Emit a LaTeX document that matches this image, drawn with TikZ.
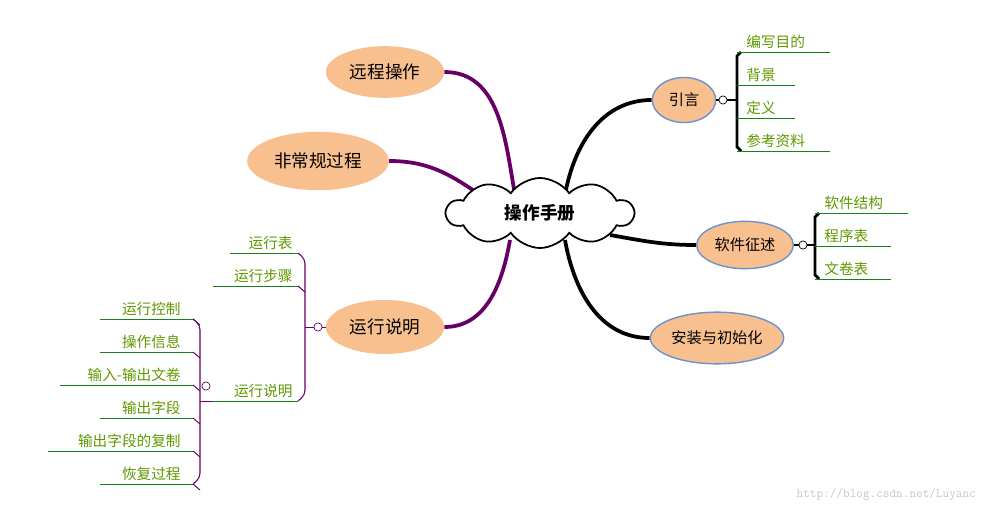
\documentclass[tikz,border=0pt]{standalone}
\usepackage{fontspec}
\setmainfont{Noto Sans CJK SC}
\usetikzlibrary{shapes.symbols,shapes.geometric,backgrounds}
\definecolor{peach}{HTML}{F8C08E}
\definecolor{rim}{HTML}{6A93D0}
\definecolor{plum}{HTML}{660066}
\definecolor{leafgreen}{HTML}{5E9900}
\definecolor{rule}{HTML}{178217}
\tikzset{
  topic/.style={ellipse, fill=peach, inner sep=0pt, font=\fontsize{15}{18}\selectfont},
  rtopic/.style={topic, draw=rim, line width=1.2pt, font=\fontsize{13}{16}\selectfont},
  leaf/.style={text=leafgreen, inner sep=1pt, font=\fontsize{12.5}{15}\selectfont},
  underline/.style={draw=rule, line width=0.8pt},
  thickblack/.style={line width=3.2pt, black},
  thickplum/.style={line width=3.2pt, plum},
  knob/.style={circle, draw, fill=white, inner sep=0pt, minimum size=7pt, line width=0.6pt},
}
\begin{document}
\begin{tikzpicture}[x=0.03cm, y=-0.03cm]
  \useasboundingbox (0,0) rectangle (987,516);
  % centre
  \node[cloud, cloud puffs=10, cloud puff arc=110, aspect=2.6, draw, line width=1.5pt,
        fill=white, minimum width=5.6cm, minimum height=2.1cm, inner sep=0pt,
        font=\fontsize{15}{18}\selectfont\bfseries] (main) at (540,213) {操作手册};

  % left topics
  \node[topic, minimum width=3.55cm, minimum height=1.55cm] (remote) at (385,72) {远程操作};
  \node[topic, minimum width=4.25cm, minimum height=1.75cm] (unusual) at (318,161) {非常规过程};
  \node[topic, minimum width=3.55cm, minimum height=1.62cm] (run) at (385,327) {运行说明};

  % right topics
  \node[rtopic, minimum width=1.9cm, minimum height=1.35cm] (intro) at (684,100) {引言};
  \node[rtopic, minimum width=2.9cm, minimum height=1.42cm] (soft) at (745,245) {软件征述};
  \node[rtopic, minimum width=4cm, minimum height=1.55cm] (setup) at (717,338) {安装与初始化};

  \begin{scope}[on background layer]
    \draw[thickplum] (remote.east) to[out=0, in=100] (515,195);
    \draw[thickplum] (unusual.east) to[out=0, in=145] (480,195);
    \draw[thickplum] (run.east) to[out=0, in=-100] (510,240);
    \draw[thickblack] (565,195) to[out=80, in=180] (intro.west);
    \draw[thickblack] (610,235) to[out=-10, in=180] (soft.west);
    \draw[thickblack] (565,240) to[out=-80, in=180] (setup.west);
  \end{scope}

  % intro branch
  \node[knob] (introk) at (723,100) {};
  \draw[black, line width=2pt] (intro.east) -- (introk);
  \draw[black, line width=2pt] (introk) -- (737,100);
  \draw[black, line width=2.4pt] (741,52) -- (737,56) -- (737,147) -- (741,151);
  \foreach \t/\y/\e [count=\i] in {编写目的/52/830, 背景/85/795, 定义/118/795, 参考资料/151/830}{
    \node[leaf, anchor=south west] (intro\i) at (745,\y-2) {\t};
    \draw[underline] (737,\y) -- (\e,\y);
  }

  % soft branch
  \node[knob] (softk) at (803,245) {};
  \draw[black, line width=2pt] (soft.east) -- (softk);
  \draw[black, line width=2pt] (softk) -- (815,245);
  \draw[black, line width=2.4pt] (819,213) -- (815,217) -- (815,275) -- (819,279);
  \foreach \t/\y/\e [count=\i] in {软件结构/213/908, 程序表/246/891, 文卷表/279/891}{
    \node[leaf, anchor=south west] (soft\i) at (823,\y-2) {\t};
    \draw[underline] (815,\y) -- (\e,\y);
  }

  % run branch
  \node[knob, draw=plum] (runk) at (318,327) {};
  \draw[plum, line width=0.8pt] (run.west) -- (runk);
  \draw[plum, line width=0.8pt] (runk) -- (305,327);
  \draw[plum, line width=0.9pt, rounded corners=4pt] (298,253) -- (305,259) -- (305,395) -- (298,401);
  \draw[plum, line width=0.9pt, rounded corners=4pt] (298,286) -- (305,292);
  \foreach \t/\y/\s [count=\i] in {运行表/253/230, 运行步骤/286/213, 运行说明/401/213}{
    \node[leaf, anchor=south east] (run\i) at (294,\y-2) {\t};
    \draw[underline] (\s,\y) -- (298,\y);
  }

  % detail branch
  \node[knob, draw=plum] (detk) at (206,386) {};
  \draw[plum, line width=0.9pt, rounded corners=4pt] (193,319) -- (200,325) -- (200,478) -- (193,484);
  \draw[plum, line width=0.8pt] (200,401) -- (213,401);
  \foreach \t/\y/\s [count=\i] in {运行控制/319/100, 操作信息/352/100, 输入-输出文卷/385/60,
                                    输出字段/418/100, 输出字段的复制/451/48, 恢复过程/484/100}{
    \node[leaf, anchor=south east] (det\i) at (182,\y-2) {\t};
    \draw[underline] (\s,\y) -- (193,\y);
    \draw[plum, line width=0.8pt, rounded corners=3pt] (193,\y) -- (200,\y+6);
  }

  % mark
  \node[text=black!22, font=\ttfamily\fontsize{11}{13}\selectfont, anchor=east] (mark) at (980,495) {http://blog.csdn.net/Luyanc};
\end{tikzpicture}
\end{document}
